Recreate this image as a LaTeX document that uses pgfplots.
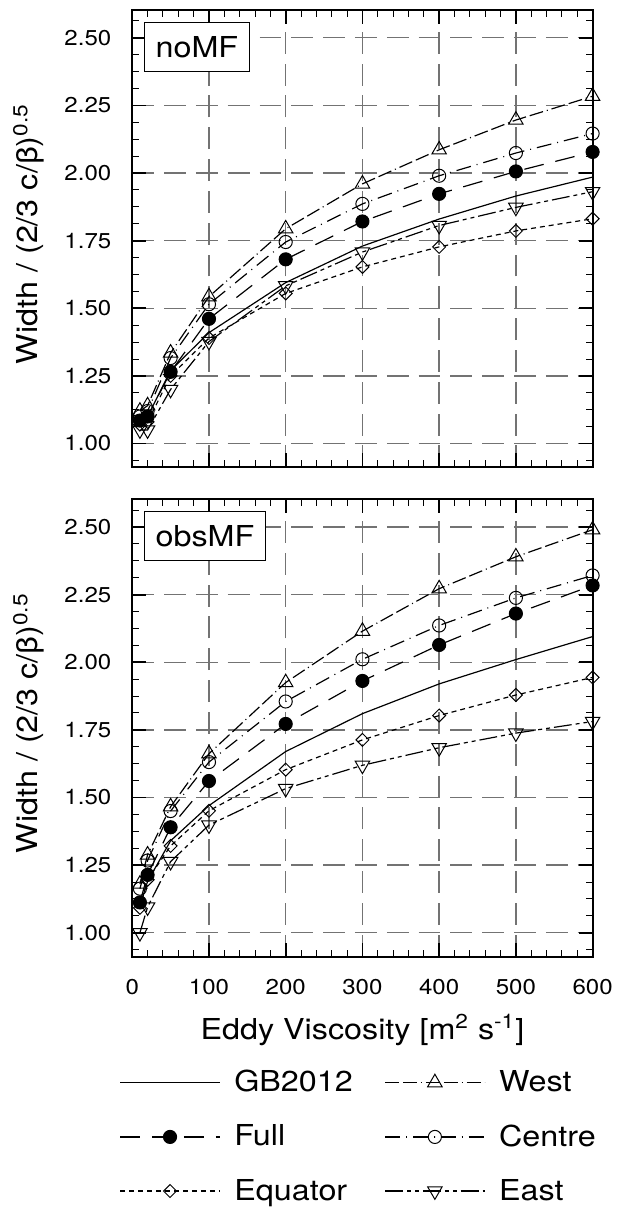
\documentclass[border=0pt]{standalone}
\usepackage{pgfplots}
\pgfplotsset{compat=1.18}
\usepackage{fontspec}
\setmainfont{TeX Gyre Heros}[FakeStretch=1.12]

% eddy viscosity runs: x, GB2012, Full, West, Centre, Equator, East
\pgfplotstableread{
x   gb     full   west   centre equator east
10  1.07   1.085  1.12   1.10   1.07    1.05
20  1.10   1.10   1.14   1.12   1.08    1.05
50  1.27   1.265  1.335  1.316  1.25    1.20
100 1.41   1.461  1.543  1.515  1.39    1.377
200 1.595  1.681  1.794  1.745  1.555   1.583
300 1.73   1.821  1.96   1.886  1.653   1.708
400 1.83   1.923  2.086  1.99   1.727   1.806
500 1.915  2.006  2.196  2.074  1.786   1.873
600 1.985  2.078  2.284  2.146  1.831   1.931
}\nomf
\pgfplotstableread{
x   gb     full   west   centre equator east
10  1.10   1.112  1.18   1.163  1.092   1.00
20  1.19   1.214  1.288  1.267  1.196   1.095
50  1.34   1.39   1.466  1.450  1.321   1.263
100 1.47   1.561  1.662  1.631  1.451   1.398
200 1.67   1.772  1.925  1.855  1.603   1.533
300 1.81   1.931  2.115  2.011  1.713   1.619
400 1.92   2.064  2.272  2.136  1.803   1.684
500 2.01   2.18   2.39   2.238  1.879   1.738
600 2.095  2.284  2.49   2.321  1.944   1.781
}\obsmf

\tikzset{
  tagbox/.style={draw, line width=0.5pt, fill=white, anchor=north west,
    inner xsep=5.5pt, inner ysep=7pt, xshift=6pt, yshift=-6pt,
    font=\fontsize{14.5}{17}\selectfont},
}

\pgfplotsset{
  panel/.style={
    scale only axis, width=231.5pt, height=230pt,
    xmin=0, xmax=600, ymin=0.912, ymax=2.603,
    xtick={0,100,...,600}, ytick={1,1.25,...,2.5},
    minor xtick={0,20,...,600}, minor ytick={0.9375,1,...,2.5625},
    tick align=inside,
    major tick length=7pt, minor tick length=3.5pt,
    every major tick/.append style={line width=0.9pt, black},
    every minor tick/.append style={line width=0.5pt, black},
    axis line style={line width=1pt},
    grid=major,
    major grid style={line width=0.7pt, black!55, dash pattern=on 11pt off 5pt},
    /pgf/number format/assume math mode=true,
    yticklabel style={font=\fontsize{10.8}{12}\selectfont, xshift=-7pt,
      /pgf/number format/fixed, /pgf/number format/fixed zerofill,
      /pgf/number format/precision=2},
    xticklabel style={font=\fontsize{10.8}{12}\selectfont, yshift=-8pt},
    ylabel={Width / (2/3 c/β)\textsuperscript{0.5}},
    ylabel style={at={(axis description cs:-0.205,0.51)}, anchor=base,
      font=\fontsize{14.5}{16}\selectfont},
    every axis plot/.append style={line width=0.6pt, black},
    mark options={solid, line width=0.5pt},
    legend image code/.code={\draw[mark repeat=2,mark phase=2]
      plot coordinates {(0pt,0pt) (25pt,0pt) (50pt,0pt)};},
  },
  gbstyle/.style={solid},
  fullstyle/.style={dash pattern=on 10pt off 6pt, mark=*, mark size=3.3pt},
  weststyle/.style={dash pattern=on 7pt off 2pt on 7pt off 2pt on 0.5pt off 2pt,
    mark=triangle, mark size=4.2pt},
  centrestyle/.style={dash pattern=on 7.5pt off 3pt on 0.5pt off 3pt,
    mark=o, mark size=3.3pt},
  equatorstyle/.style={dash pattern=on 2.5pt off 2pt,
    mark=square, mark size=2.3pt, mark options={solid, rotate=45, line width=0.5pt}},
  eaststyle/.style={dash pattern=on 9pt off 2pt on 2pt off 2pt on 2pt off 2pt,
    mark=triangle, mark size=4.2pt, mark options={solid, rotate=180, line width=0.5pt}},
}

\begin{document}
\begin{tikzpicture}
\begin{axis}[panel, name=top, at={(0,246pt)}, anchor=south west, xticklabels={}]
\addplot[gbstyle] table[x=x, y=gb] {\nomf};
\addplot[weststyle] table[x=x, y=west] {\nomf};
\addplot[fullstyle] table[x=x, y=full] {\nomf};
\addplot[centrestyle] table[x=x, y=centre] {\nomf};
\addplot[equatorstyle] table[x=x, y=equator] {\nomf};
\addplot[eaststyle] table[x=x, y=east] {\nomf};
\node[tagbox] at (rel axis cs:0,1) {noMF};
\end{axis}

\begin{axis}[panel, name=bottom, at={(0,0)}, anchor=south west,
  xlabel={Eddy Viscosity [m\textsuperscript{2} s\textsuperscript{-1}]},
  xlabel style={at={(axis description cs:0.5,0)}, anchor=base, yshift=-41.5pt,
    font=\fontsize{14.5}{17}\selectfont},
  legend columns=2, legend cell align=left,
  legend style={at={(axis description cs:0,0)}, anchor=north west,
    xshift=-6.5pt, yshift=-55pt, draw=none, fill=none, inner sep=0pt,
    font=\fontsize{14.5}{17}\selectfont, row sep=11pt,
    /tikz/every odd column/.append style={column sep=5pt},
    /tikz/every even column/.append style={column sep=14pt}}]
\addplot[gbstyle] table[x=x, y=gb] {\obsmf};
\addlegendentry{GB2012}
\addplot[weststyle] table[x=x, y=west] {\obsmf};
\addlegendentry{West}
\addplot[fullstyle] table[x=x, y=full] {\obsmf};
\addlegendentry{Full}
\addplot[centrestyle] table[x=x, y=centre] {\obsmf};
\addlegendentry{Centre}
\addplot[equatorstyle] table[x=x, y=equator] {\obsmf};
\addlegendentry{Equator}
\addplot[eaststyle] table[x=x, y=east] {\obsmf};
\addlegendentry{East}
\node[tagbox] at (rel axis cs:0,1) {obsMF};
\end{axis}
% page frame with the reference's margins
\path (-66.5pt,-122.5pt) rectangle (242.5pt,481pt);
\end{tikzpicture}
\end{document}
